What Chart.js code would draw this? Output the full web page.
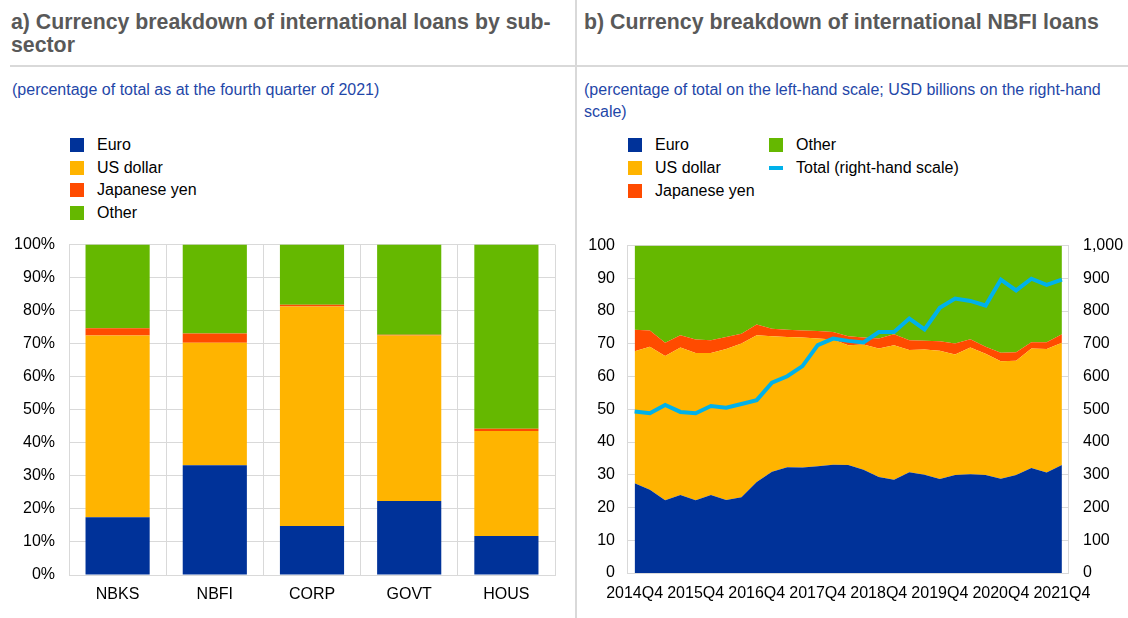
<!DOCTYPE html>
<html>
<head>
<meta charset="utf-8">
<script src="https://cdn.jsdelivr.net/npm/chart.js@4.4.1/dist/chart.umd.min.js"></script>
<style>
  body { margin: 0; width: 1128px; height: 618px; position: relative; background: #fff; overflow: hidden;
         font-family: "Liberation Sans", Arial, sans-serif; }
  .title { position: absolute; font-weight: bold; font-size: 21.3px; line-height: 23px; color: #595959; white-space: nowrap; }
  .sub { position: absolute; font-size: 16px; line-height: 22px; color: #1f47a8; white-space: nowrap; }
  .rule { position: absolute; background: #d9d9d9; }
  .leg { position: absolute; font-size: 16px; color: #000; white-space: nowrap; line-height: 18px; }
  .sw { position: absolute; }
  canvas { position: absolute; }
</style>
</head>
<body>
<div class="rule" style="left:575px;top:0;width:2px;height:618px"></div>
<div class="rule" style="left:10px;top:65px;width:1118px;height:2px"></div>

<div class="title" style="left:11px;top:11px">a) Currency breakdown of international loans by sub-<br>sector</div>
<div class="title" style="left:584px;top:11px">b) Currency breakdown of international NBFI loans</div>
<div class="sub" style="left:12px;top:79px">(percentage of total as at the fourth quarter of 2021)</div>
<div class="sub" style="left:584px;top:79px">(percentage of total on the left-hand scale; USD billions on the right-hand<br>scale)</div>

<div id="legA"></div>
<div id="legB"></div>

<canvas id="chartA" width="576" height="397" style="left:0;top:221px"></canvas>
<canvas id="chartB" width="552" height="397" style="left:576px;top:221px"></canvas>

<script>
// series names + colours
const seriesNames = ["Euro", "US dollar", "Japanese yen", "Other"];
const seriesColors = ["#003299", "#ffb400", "#ff4b00", "#65b800"];
const totalName = "Total (right-hand scale)";
const totalColor = "#00b1ea";
const GRID = "#d9d9d9";

// panel a: sub-sectors, Q4 2021 (% of total)
const sectors = ["NBKS", "NBFI", "CORP", "GOVT", "HOUS"];
const secEuro = [17.5, 33.2, 14.8, 22.4, 11.8];
const secUsd = [55.0, 37.1, 66.5, 50.1, 31.8];
const secJpy = [2.2, 2.8, 0.5, 0.2, 0.7];
const secOther = [25.3, 26.9, 18.2, 27.3, 55.7];

// panel b: NBFI loans by quarter
const quarters = [
  "2014Q4", "2015Q1", "2015Q2", "2015Q3", "2015Q4", "2016Q1", "2016Q2", "2016Q3",
  "2016Q4", "2017Q1", "2017Q2", "2017Q3", "2017Q4", "2018Q1", "2018Q2", "2018Q3",
  "2018Q4", "2019Q1", "2019Q2", "2019Q3", "2019Q4", "2020Q1", "2020Q2", "2020Q3",
  "2020Q4", "2021Q1", "2021Q2", "2021Q3", "2021Q4"
];
const xTickLabels = ["2014Q4", "2015Q4", "2016Q4", "2017Q4", "2018Q4", "2019Q4", "2020Q4", "2021Q4"];
const nbfiEuro = [27.4, 25.4, 22.2, 23.8, 22.2, 23.8, 22.3, 23.1, 27.8, 30.9, 32.3, 32.2, 32.6, 33.1, 33.0,
  31.5, 29.3, 28.5, 30.8, 30.0, 28.7, 29.9, 30.2, 29.9, 28.8, 29.9, 32.1, 30.7, 33.0];
const nbfiUsd = [40.3, 43.7, 44.1, 45.1, 45.0, 43.4, 46.1, 47.0, 44.8, 41.4, 39.8, 39.7, 39.0, 38.2, 36.6,
  38.3, 39.3, 41.1, 37.3, 38.3, 39.2, 36.8, 38.7, 37.1, 35.9, 34.9, 36.5, 37.7, 37.3];
const nbfiJpy = [6.6, 5.0, 4.0, 3.7, 4.1, 3.9, 3.7, 3.0, 3.3, 2.3, 2.2, 2.2, 2.3, 2.3, 2.7,
  2.1, 3.0, 3.3, 3.0, 2.6, 2.9, 3.4, 2.5, 2.1, 2.6, 2.6, 1.9, 2.1, 2.6];
const nbfiOther = [25.7, 25.9, 29.7, 27.4, 28.7, 28.9, 27.9, 26.9, 24.1, 25.4, 25.7, 25.9, 26.1, 26.4, 27.7,
  28.1, 28.4, 27.1, 28.9, 29.1, 29.2, 29.9, 28.6, 30.9, 32.7, 32.6, 29.5, 29.5, 27.1];
const nbfiTotal = [493, 488, 513, 492, 488, 510, 505, 516, 528, 581, 601, 632, 696, 716, 709,
  704, 736, 736, 777, 744, 810, 838, 831, 817, 896, 863, 899, 880, 896];

// html legends
function addItem(parent, x, y, name, color, isLine) {
  const sw = document.createElement("div");
  sw.className = "sw";
  if (isLine) {
    sw.style.cssText = `left:${x}px;top:${y - 2}px;width:14px;height:4px;background:${color}`;
  } else {
    sw.style.cssText = `left:${x}px;top:${y - 7}px;width:14px;height:14px;background:${color}`;
  }
  parent.appendChild(sw);
  const t = document.createElement("div");
  t.className = "leg";
  t.style.left = (x + 27) + "px";
  t.style.top = (y - 9) + "px";
  t.textContent = name;
  parent.appendChild(t);
}
const legA = document.getElementById("legA");
seriesNames.forEach((n, i) => addItem(legA, 70, 145 + i * 22.5, n, seriesColors[i], false));
const legB = document.getElementById("legB");
seriesNames.slice(0, 3).forEach((n, i) => addItem(legB, 628, 145 + i * 23, n, seriesColors[i], false));
addItem(legB, 769, 145, seriesNames[3], seriesColors[3], false);
addItem(legB, 769, 168, totalName, totalColor, true);

const tickFont = { family: "'Liberation Sans', Arial, sans-serif", size: 16 };

// panel a
new Chart(document.getElementById("chartA"), {
  type: "bar",
  data: {
    labels: sectors,
    datasets: [secEuro, secUsd, secJpy, secOther].map((d, i) => ({
      label: seriesNames[i],
      data: d,
      backgroundColor: seriesColors[i],
      borderWidth: 0,
      barPercentage: 0.66,
      categoryPercentage: 1,
    })),
  },
  options: {
    responsive: false,
    animation: false,
    devicePixelRatio: 1,
    layout: { padding: { top: 7, right: 21, left: 0, bottom: 0 } },
    plugins: { legend: { display: false }, tooltip: { enabled: false } },
    scales: {
      x: {
        stacked: true,
        grid: { color: GRID, drawTicks: false, offset: true },
        border: { color: GRID },
        ticks: { color: "#000", font: tickFont, padding: 10 },
        afterFit: (s) => { s.height = 43; },
      },
      y: {
        stacked: true,
        min: 0,
        max: 100,
        ticks: { stepSize: 10, callback: (v) => v + "%", color: "#000", font: tickFont, padding: 14 },
        grid: { color: GRID, drawTicks: false },
        border: { color: GRID },
        afterFit: (s) => { s.width = 69; },
      },
    },
  },
});

// panel b
const pts = (arr) => arr.map((v, i) => ({ x: i, y: v }));
const areaSets = [nbfiEuro, nbfiUsd, nbfiJpy, nbfiOther].map((d, i) => ({
  label: seriesNames[i],
  data: pts(d),
  yAxisID: "y",
  backgroundColor: seriesColors[i],
  borderColor: "rgba(0,0,0,0)",
  borderWidth: 0,
  pointRadius: 0,
  tension: 0,
  fill: i === 0 ? "origin" : "-1",
}));

new Chart(document.getElementById("chartB"), {
  type: "line",
  data: {
    datasets: [
      ...areaSets,
      {
        label: totalName,
        data: pts(nbfiTotal),
        yAxisID: "y1",
        borderColor: totalColor,
        borderWidth: 4,
        pointRadius: 0,
        tension: 0,
        fill: false,
        order: -1,
      },
    ],
  },
  options: {
    responsive: false,
    animation: false,
    devicePixelRatio: 1,
    layout: { padding: { top: 7, right: 0, left: 0, bottom: 0 } },
    plugins: { legend: { display: false }, tooltip: { enabled: false } },
    scales: {
      x: {
        type: "linear",
        min: -0.5,
        max: 28.4,
        grid: { display: false },
        border: { display: false },
        afterBuildTicks: (s) => {
          s.ticks = xTickLabels.map((l) => ({ value: quarters.indexOf(l) }));
        },
        ticks: {
          callback: (v) => quarters[v],
          autoSkip: false,
          maxRotation: 0,
          color: "#000",
          font: tickFont,
          padding: 3,
        },
        afterFit: (s) => { s.height = 45; },
      },
      y: {
        stacked: true,
        min: 0,
        max: 100,
        ticks: { stepSize: 10, color: "#000", font: tickFont, padding: 12 },
        grid: { color: GRID, drawTicks: false },
        border: { color: GRID },
        afterFit: (s) => { s.width = 51; },
      },
      y1: {
        position: "right",
        min: 0,
        max: 1000,
        ticks: {
          stepSize: 100,
          callback: (v) => v.toLocaleString("en-US"),
          color: "#000",
          font: tickFont,
          padding: 15,
        },
        grid: { drawOnChartArea: false, drawTicks: false },
        border: { color: GRID },
        afterFit: (s) => { s.width = 60; },
      },
    },
  },
});
</script>
</body>
</html>
